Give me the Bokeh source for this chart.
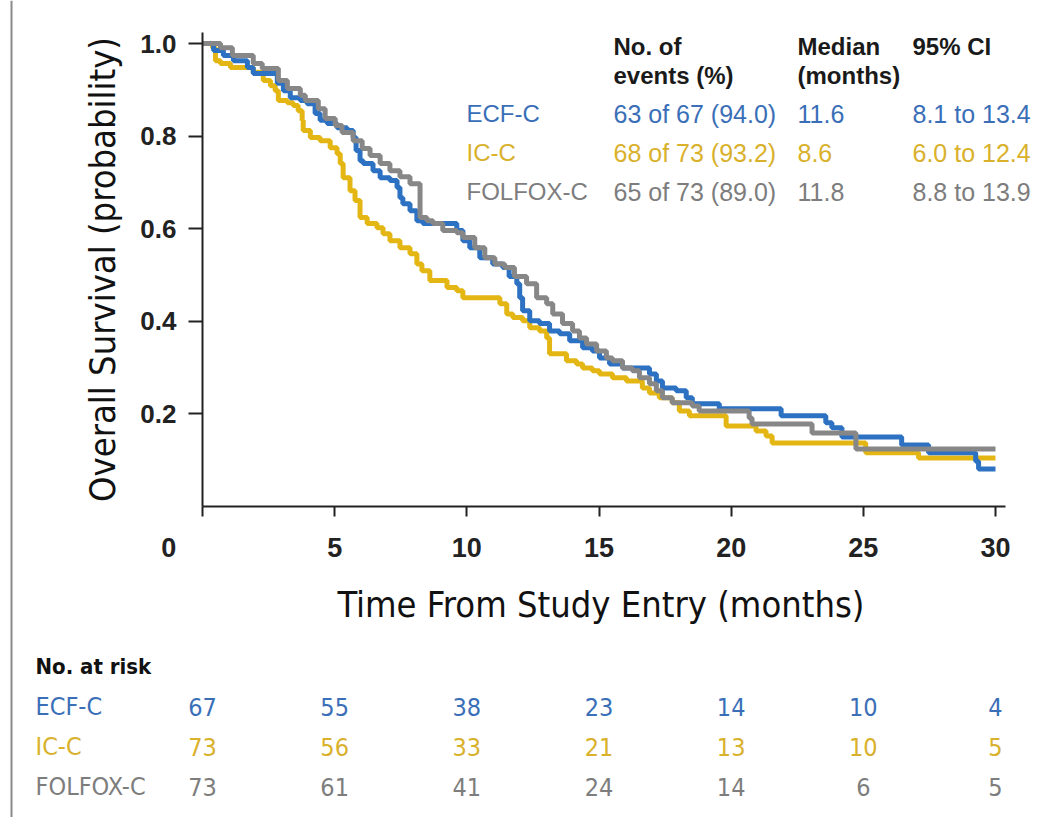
from bokeh.plotting import figure
from bokeh.layouts import row, column
from bokeh.models import Range1d, FixedTicker, Label, PrintfTickFormatter
from bokeh.embed import file_html
from bokeh.resources import INLINE

# ---- data -------------------------------------------------------------
arms = ["ECF-C", "IC-C", "FOLFOX-C"]

# Kaplan-Meier steps: time of drop (months) and survival after the drop
ecf_t = [0, 0.42, 0.79, 1.17, 1.70, 1.92, 2.83, 3.06, 3.32, 3.70, 3.96, 4.26, 4.45, 4.72,
         5.09, 5.47, 5.70, 5.81, 5.96, 6.08, 6.45, 6.72, 7.09, 7.36, 7.47, 7.58, 7.85, 8.11,
         8.34, 9.62, 9.85, 10.11, 10.49, 10.98, 11.36, 11.60, 11.89, 12.00, 12.11, 12.38,
         12.75, 13.13, 13.51, 13.89, 14.38, 14.75, 15.02, 15.40, 15.89, 16.91, 17.17, 17.40,
         17.92, 18.30, 18.53, 19.55, 21.89, 23.58, 23.81, 24.19, 26.45, 27.47, 29.25, 29.36]
ecf_s = [1.0, 0.985, 0.974, 0.963, 0.948, 0.935, 0.914, 0.898, 0.883, 0.877, 0.870, 0.849,
         0.834, 0.827, 0.818, 0.812, 0.797, 0.769, 0.747, 0.741, 0.725, 0.710, 0.704, 0.689,
         0.667, 0.654, 0.639, 0.617, 0.611, 0.596, 0.574, 0.559, 0.537, 0.524, 0.516, 0.497,
         0.481, 0.451, 0.423, 0.401, 0.395, 0.379, 0.373, 0.358, 0.343, 0.336, 0.321, 0.308,
         0.299, 0.286, 0.271, 0.256, 0.250, 0.235, 0.222, 0.211, 0.196, 0.181, 0.170, 0.150,
         0.133, 0.116, 0.098, 0.081]

ic_t = [0, 0.38, 0.49, 0.68, 1.06, 1.92, 2.30, 2.57, 2.75, 2.87, 3.21, 3.43, 3.62, 3.77,
        3.81, 4.08, 4.45, 4.83, 5.09, 5.21, 5.32, 5.58, 5.77, 5.96, 6.23, 6.60, 6.83, 7.09,
        7.47, 7.85, 8.11, 8.30, 8.60, 9.25, 9.62, 9.85, 11.25, 11.51, 11.74, 12.11, 12.38,
        12.75, 13.02, 13.13, 13.77, 14.15, 14.38, 14.75, 15.02, 15.51, 16.04, 16.64, 16.91,
        17.28, 17.77, 18.04, 18.42, 19.81, 20.94, 21.32, 21.55, 25.09, 27.09]
ic_s = [1.0, 0.991, 0.963, 0.957, 0.948, 0.938, 0.920, 0.909, 0.898, 0.877, 0.872, 0.866,
        0.855, 0.834, 0.812, 0.797, 0.790, 0.775, 0.762, 0.741, 0.710, 0.682, 0.661, 0.624,
        0.611, 0.602, 0.589, 0.574, 0.559, 0.546, 0.524, 0.509, 0.488, 0.473, 0.466, 0.451,
        0.438, 0.416, 0.408, 0.401, 0.386, 0.379, 0.364, 0.330, 0.315, 0.308, 0.299, 0.293,
        0.286, 0.278, 0.271, 0.256, 0.245, 0.235, 0.224, 0.206, 0.196, 0.174, 0.163, 0.152,
        0.137, 0.116, 0.105]

folfox_t = [0, 0.68, 1.13, 1.92, 2.26, 2.87, 3.21, 3.70, 3.89, 4.38, 4.64, 5.02, 5.28, 5.70,
            6.04, 6.34, 6.72, 7.09, 7.47, 7.85, 8.23, 8.49, 8.72, 9.09, 9.62, 9.85, 10.30,
            10.68, 11.06, 11.43, 11.80, 12.26, 12.64, 13.02, 13.25, 13.62, 14.00, 14.26, 14.53,
            14.91, 15.28, 15.51, 15.89, 16.26, 16.53, 16.91, 17.17, 17.40, 17.77, 18.53, 18.79,
            20.68, 20.79, 23.06, 24.72]
folfox_s = [1.0, 0.991, 0.974, 0.957, 0.946, 0.920, 0.903, 0.888, 0.877, 0.859, 0.838, 0.823,
            0.808, 0.790, 0.773, 0.758, 0.741, 0.725, 0.712, 0.697, 0.624, 0.617, 0.611, 0.596,
            0.591, 0.581, 0.559, 0.537, 0.524, 0.516, 0.497, 0.481, 0.451, 0.438, 0.416, 0.395,
            0.379, 0.364, 0.351, 0.336, 0.321, 0.315, 0.299, 0.293, 0.278, 0.265, 0.250, 0.235,
            0.224, 0.217, 0.206, 0.191, 0.178, 0.159, 0.124]

follow_up_end = 30

events = ["63 of 67 (94.0)", "68 of 73 (93.2)", "65 of 73 (89.0)"]
medians = ["11.6", "8.6", "11.8"]
cis = ["8.1 to 13.4", "6.0 to 12.4", "8.8 to 13.9"]

risk_times = [0, 5, 10, 15, 20, 25, 30]
ecf_risk = [67, 55, 38, 23, 14, 10, 4]
ic_risk = [73, 56, 33, 21, 13, 10, 5]
folfox_risk = [73, 61, 41, 24, 14, 6, 5]

x_ticks = [0, 5, 10, 15, 20, 25, 30]
y_ticks = [0.2, 0.4, 0.6, 0.8, 1.0]

# ---- styling / layout -------------------------------------------------
line_colors = ["#2c71c2", "#e3b614", "#878787"]
text_colors = ["#3a6fb8", "#d9b12c", "#7d7d7d"]
SANS = "Liberation Sans"
NARROW = "DejaVu Sans Condensed"
NBSP = "\u00a0"

W, H = 1046, 817
STRIP = 20                 # narrow strip holding the page rule
MAIN_H = 632               # survival plot height; the risk table fills the rest
X0_PX, X30_PX = 202, 995   # canvas columns of month 0 and month 30
Y0_PX, Y1_PX = 506, 43     # canvas rows of survival 0 and 1
FRAME_RIGHT = 1040
AXIS_RIGHT = 1005
TOP = 32
SPLIT = 165                # boundary between arm names and counts in the risk table


def months(px):
    """canvas column -> months"""
    return (px - X0_PX) * 30 / (X30_PX - X0_PX)


def surv(py):
    """canvas row -> survival probability"""
    return (Y0_PX - py) / (Y0_PX - Y1_PX)


def bare(width, height, x_range, y_range, right=0):
    f = figure(width=width, height=height, output_backend="svg", toolbar_location=None,
               x_range=x_range, y_range=y_range, x_axis_type=None, y_axis_type=None,
               min_border_left=0, min_border_right=right, min_border_top=0,
               min_border_bottom=0)
    f.outline_line_color = None
    f.background_fill_color = "white"
    f.border_fill_color = "white"
    return f


p = figure(width=W - STRIP, height=MAIN_H, output_backend="svg", toolbar_location=None,
           x_range=Range1d(0, months(FRAME_RIGHT)), y_range=Range1d(0, surv(TOP)),
           min_border_left=X0_PX - STRIP, min_border_right=W - FRAME_RIGHT,
           min_border_top=TOP, min_border_bottom=MAIN_H - Y0_PX)
p.outline_line_color = None
p.xgrid.visible = False
p.ygrid.visible = False
p.background_fill_color = "white"
p.border_fill_color = "white"

for ax in (p.xaxis[0], p.yaxis[0]):
    ax.axis_line_color = "#222222"
    ax.axis_line_width = 2
    ax.major_tick_line_color = "#222222"
    ax.major_tick_line_width = 2
    ax.minor_tick_line_color = None
    ax.major_tick_in = 0
    ax.major_label_text_font = SANS
    ax.major_label_text_font_style = "bold"
    ax.major_label_text_color = "#222222"
    ax.axis_label_text_font = NARROW
    ax.axis_label_text_font_style = "normal"
    ax.axis_label_text_color = "#111111"
    ax.axis_label_text_font_size = "36px"

p.xaxis.bounds = (0, months(AXIS_RIGHT))
p.xaxis.ticker = FixedTicker(ticks=x_ticks)
p.xaxis.major_label_overrides = {0: "0" + NBSP * 9}
p.xaxis.major_tick_out = 10
p.xaxis.major_label_standoff = 16
p.xaxis.major_label_text_font_size = "27px"
# trailing spaces keep the title centred under the drawn axis rather than the frame
p.xaxis.axis_label = "Time From Study Entry (months)" + NBSP * 4
p.xaxis.axis_label_standoff = 18

p.yaxis.ticker = FixedTicker(ticks=y_ticks)
p.yaxis.formatter = PrintfTickFormatter(format="%.1f")
p.yaxis.major_tick_out = 14
p.yaxis.major_label_standoff = 12
p.yaxis.major_label_text_font_size = "26px"
p.yaxis.axis_label = "Overall Survival (probability)"
p.yaxis.axis_label_standoff = 14

# survival curves (grey drawn last, on top)
for t, s, i in [(ic_t, ic_s, 1), (ecf_t, ecf_s, 0), (folfox_t, folfox_s, 2)]:
    xs = list(t) + [follow_up_end]
    ys = list(s) + [s[-1]]
    p.step(xs, ys, mode="after", line_width=5, line_color=line_colors[i])


def put(fig, x, y, txt, color, size, font=SANS, bold=False, align="left"):
    fig.add_layout(Label(x=x, y=y, text=txt, text_font=font,
                         text_font_style="bold" if bold else "normal",
                         text_font_size=size, text_color=color,
                         text_align=align, text_baseline="middle"))


# summary table in the upper right of the plot
HDR = "#1a1a1a"
COL_EVENTS, COL_MEDIAN, COL_CI, COL_ARM = 613, 797, 912, 466
for px, py, txt in [(COL_EVENTS, 46, "No. of"), (COL_EVENTS, 75, "events (%)"),
                    (COL_MEDIAN, 46, "Median"), (COL_MEDIAN, 75, "(months)"),
                    (COL_CI, 46, "95% CI")]:
    put(p, months(px), surv(py), txt, HDR, "24px", bold=True)
for i, arm in enumerate(arms):
    ry = surv(113 + 39 * i)
    put(p, months(COL_ARM), ry, arm, text_colors[i], "24px")
    put(p, months(COL_EVENTS), ry, events[i], text_colors[i], "25px")
    put(p, months(COL_MEDIAN), ry, medians[i], text_colors[i], "25px")
    put(p, months(COL_CI), ry, cis[i], text_colors[i], "25px")

# number-at-risk table: arm names on the left, counts under the month scale
RISK_H = H - MAIN_H
lab = bare(SPLIT - STRIP, RISK_H, Range1d(months(STRIP), months(SPLIT)), Range1d(H, MAIN_H))
r = bare(W - SPLIT, RISK_H, Range1d(months(SPLIT), months(FRAME_RIGHT)), Range1d(H, MAIN_H),
         right=W - FRAME_RIGHT)

put(lab, months(35), 666, "No. at risk", "#111111", "22px", font=NARROW, bold=True)
for i, (arm, counts) in enumerate(zip(arms, [ecf_risk, ic_risk, folfox_risk])):
    ry = 706 + 40 * i
    put(lab, months(35), ry, arm, text_colors[i], "25px", font=NARROW)
    for t, n in zip(risk_times, counts):
        put(r, t, ry, str(n), text_colors[i], "25px", font=NARROW, align="center")

# page rule along the left edge
s = bare(STRIP, H, Range1d(0, STRIP), Range1d(0, H))
s.segment(x0=[11], y0=[0], x1=[11], y1=[H], line_color="#8a8a8a", line_width=2)

layout = row(s, column(p, row(lab, r, spacing=0), spacing=0), spacing=0)
open("out.html", "w").write(file_html(layout, INLINE))
